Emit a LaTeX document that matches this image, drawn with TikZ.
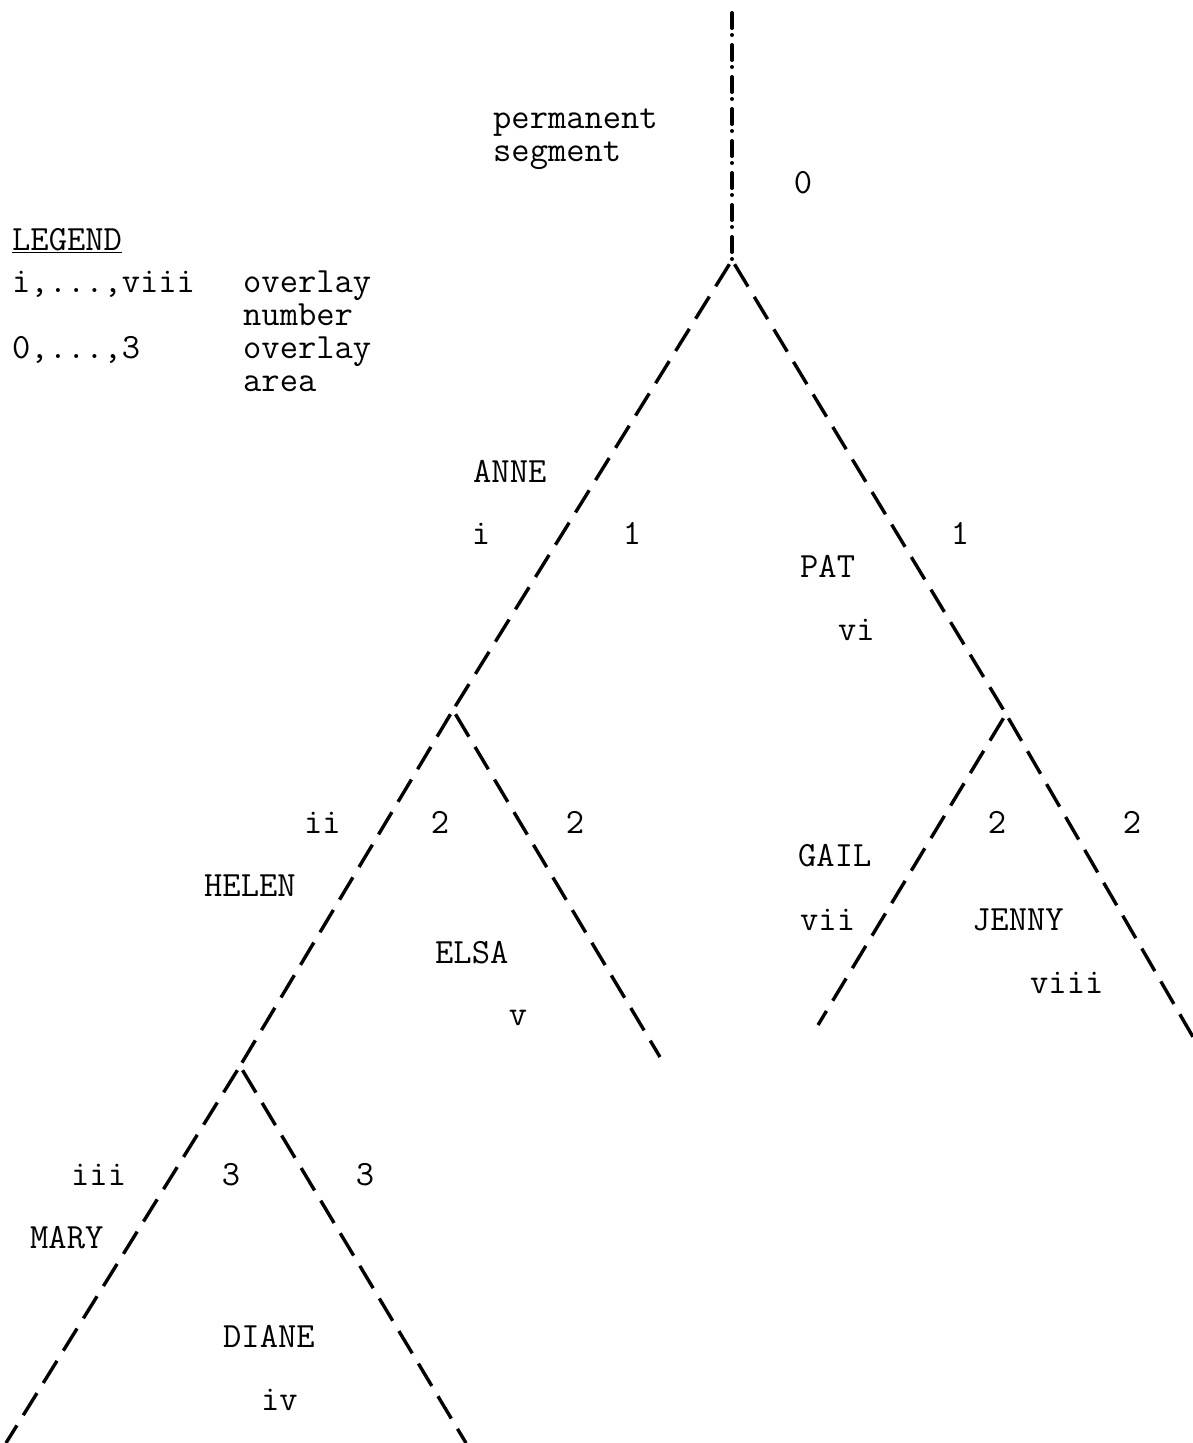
\documentclass[tikz,border=0pt]{standalone}
\usepackage{fontspec}

\begin{document}
\begin{tikzpicture}[x=1pt,y=-1pt]
  \tikzstyle{tw}=[inner sep=0pt,anchor=base west,font=\ttfamily\fontsize{35.5}{33}\selectfont]
  \tikzstyle{twc}=[tw,anchor=base]
  \tikzstyle{branch}=[line width=3.4pt,dash pattern=on 26pt off 12pt,shorten <=5pt]
  \tikzstyle{perm}=[line width=4pt,line cap=round,dash pattern=on 15pt off 7pt on 0pt off 10pt]
  \useasboundingbox (0,0) rectangle (1193,1443);
  % forks and ends of the tree
  \coordinate (top) at (732,13);
  \coordinate (root) at (732,260);
  \coordinate (annefork) at (453,710);
  \coordinate (patfork) at (1006,714);
  \coordinate (helenfork) at (240,1066);
  \coordinate (elsaend) at (660,1057);
  \coordinate (gailend) at (818,1025);
  \coordinate (jennyend) at (1193,1037);
  \coordinate (maryend) at (6,1443);
  \coordinate (dianeend) at (466,1443);
  \draw[perm] (top) -- (root);
  \draw[branch] (root) -- (annefork);
  \draw[branch] (root) -- (patfork);
  \draw[branch] (annefork) -- (helenfork);
  \draw[branch] (annefork) -- (elsaend);
  \draw[branch] (patfork) -- (gailend);
  \draw[branch] (patfork) -- (jennyend);
  \draw[branch] (helenfork) -- (maryend);
  \draw[branch] (helenfork) -- (dianeend);
  % legend
  \node[tw] (legend) at (12,250) {\underline{LEGEND}};
  \node[tw] (legnum) at (12,292) {i,...,viii};
  \node[tw] (legnumtxt) at (243,292) {overlay};
  \node[tw] (legnumtxt2) at (243,325) {number};
  \node[tw] (legarea) at (12,358) {0,...,3};
  \node[tw] (legareatxt) at (243,358) {overlay};
  \node[tw] (legareatxt2) at (243,391) {area};
  % permanent segment
  \node[tw] (perm1) at (493,128) {permanent};
  \node[tw] (perm2) at (493,161) {segment};
  \node[twc] (area0) at (803,193) {0};
  % level 1
  \node[tw] (anne) at (473,482) {ANNE};
  \node[twc] (ovi) at (481,544) {i};
  \node[twc] (area1l) at (632,544) {1};
  \node[twc] (area1r) at (960,544) {1};
  \node[tw] (pat) at (800,577) {PAT};
  \node[tw] (ovvi) at (838,640) {vi};
  % level 2
  \node[tw] (ovii) at (304,833) {ii};
  \node[twc] (area2a) at (440,833) {2};
  \node[twc] (area2b) at (575,833) {2};
  \node[tw] (helen) at (204,896) {HELEN};
  \node[tw] (elsa) at (435,963) {ELSA};
  \node[twc] (ovv) at (518,1025) {v};
  \node[twc] (area2c) at (997,833) {2};
  \node[twc] (area2d) at (1132,833) {2};
  \node[tw] (gail) at (798,866) {GAIL};
  \node[tw] (ovvii) at (800,930) {vii};
  \node[tw] (jenny) at (972,930) {JENNY};
  \node[tw] (ovviii) at (1030,993) {viii};
  % level 3
  \node[tw] (oviii) at (71,1185) {iii};
  \node[twc] (area3a) at (231,1185) {3};
  \node[twc] (area3b) at (365,1185) {3};
  \node[tw] (mary) at (30,1248) {MARY};
  \node[tw] (diane) at (223,1347) {DIANE};
  \node[tw] (oviv) at (261,1410) {iv};
\end{tikzpicture}
\end{document}
